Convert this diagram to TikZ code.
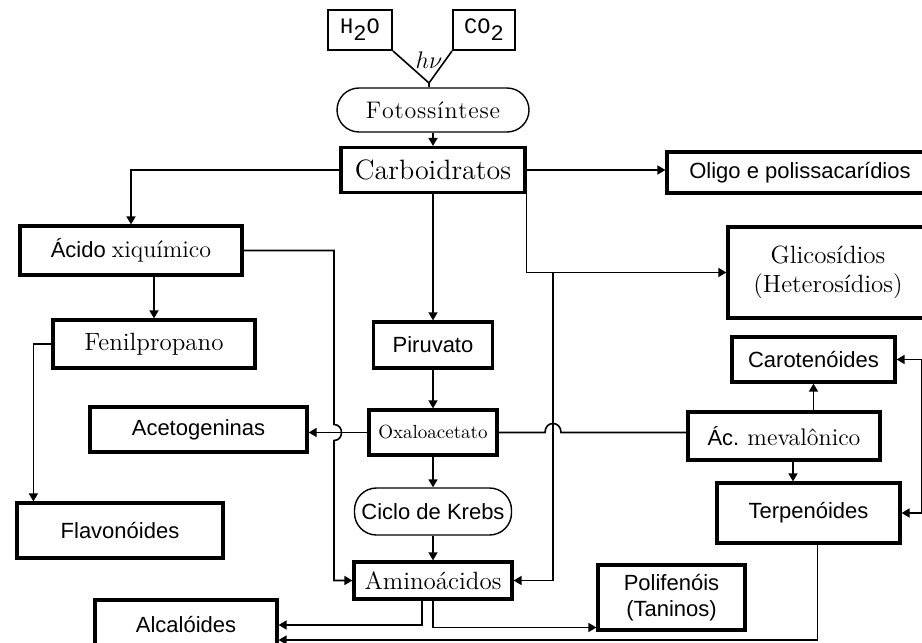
\documentclass[tikz,border=0pt]{standalone}
\usepackage{fontspec}
\setsansfont{Liberation Sans}
\setmonofont{Liberation Mono}
\usetikzlibrary{
  arrows.meta,
  positioning,
  calc
}
\tikzset{
  box/.style={
    rectangle, draw=black, line width=1.6pt, fill=white,
    inner sep=0pt, align=center,
    font=\sffamily\fontsize{11}{13}\selectfont
  },
  boxR/.style={
    box, font=\rmfamily\fontsize{12.5}{14.5}\selectfont
  },
  pill/.style={
    rectangle, rounded corners=11pt, draw=black, line width=0.7pt,
    inner sep=0pt, align=center
  },
  chem/.style={
    rectangle, draw=black, line width=1pt, inner sep=0pt,
    font=\ttfamily\fontsize{11}{13}\selectfont
  },
  arrow/.style={-{Triangle[length=4pt,width=4.5pt]}, line width=0.8pt},
  arrow2/.style={{Triangle[length=4pt,width=4.5pt]}-{Triangle[length=4pt,width=4.5pt]}, line width=0.8pt},
  link/.style={line width=0.8pt}
}

\begin{document}
\begin{tikzpicture}[x=0.5pt, y=-0.5pt]
  \useasboundingbox (0,0) rectangle (922,643);
  % Inputs
  \node[chem, minimum width=32pt, minimum height=20pt] (h2o) at (360,30)
    {H\raisebox{-.6ex}{2}O};
  \node[chem, minimum width=31pt, minimum height=20pt] (co2) at (484,30)
    {CO\raisebox{-.6ex}{2}};
  \coordinate (v) at (429,83);
  \node[font=\rmfamily\fontsize{12}{14}\selectfont] (hnu) at (429,60) {$h\nu$};
  \node[pill, minimum width=96pt, minimum height=22pt,
        font=\rmfamily\fontsize{12}{14}\selectfont] (foto) at (433,110)
    {F\kern.4pt o\kern.4pt t\kern.4pt o\kern.4pt s\kern.4pt s\kern.4pt í\kern.4pt n\kern.4pt t\kern.4pt e\kern.4pt s\kern.4pt e};
  % Main column
  \node[boxR, minimum width=92pt, minimum height=22.5pt,
        font=\rmfamily\fontsize{14}{16}\selectfont] (carbo) at (433,170) {Carboidratos};
  \node[box, minimum width=59.5pt, minimum height=23pt] (piru) at (433,345) {Piruvato};
  \node[boxR, minimum width=64pt, minimum height=22.5pt,
        font=\rmfamily\fontsize{9.5}{11}\selectfont] (oxal) at (433,432.5) {Oxaloacetato};
  \node[pill, minimum width=78.5pt, minimum height=23.5pt,
        font=\sffamily\fontsize{11}{13}\selectfont] (krebs) at (433,511.5) {Ciclo de Krebs};
  \node[boxR, minimum width=79pt, minimum height=18.5pt] (amino) at (433,580.5) {Aminoácidos};
  % Right side
  \node[box, minimum width=133pt, minimum height=20.5pt] (oligo) at (800,172.5)
    {Oligo e polissacarídios};
  \node[boxR, minimum width=100pt, minimum height=45.5pt] (glic) at (828,272.5)
    {Glicosídios\\(Heterosídios)};
  \node[box, minimum width=81.5pt, minimum height=22.5pt] (caro) at (813.5,359.5) {Carotenóides};
  \node[box, minimum width=96pt, minimum height=24pt] (meva) at (784,436)
    {Ác. {\rmfamily\fontsize{12}{14}\selectfont mevalônico}};
  \node[box, minimum width=91.5pt, minimum height=30pt] (terp) at (808.5,513) {Terpenóides};
  \node[box, minimum width=73.5pt, minimum height=32.5pt] (poli) at (671.5,597.5)
    {Polifenóis\\(Taninos)};
  % Left side
  \node[box, minimum width=111pt, minimum height=24.5pt] (acid) at (131,250.5)
    {Ácido {\rmfamily\fontsize{12}{14}\selectfont xiquímico}};
  \node[boxR, minimum width=101pt, minimum height=24pt] (feni) at (154,344) {Fenilpropano};
  \node[box, minimum width=108.5pt, minimum height=22.5pt] (acet) at (198.5,429.5) {Acetogeninas};
  \node[box, minimum width=103pt, minimum height=27.5pt] (flav) at (120,530.5) {Flavonóides};
  \node[box, minimum width=91pt, minimum height=25pt] (alca) at (186,625) {Alcalóides};
  % Lanes
  \coordinate (lx) at (334,0);
  \coordinate (jg) at (553,0);

  % Photosynthesis
  \draw[link] (h2o.south east) -- (v) -- (co2.south west);
  \draw[link] (v) -- (v |- foto.north);
  \draw[arrow] (foto) -- (carbo);
  % Main column arrows
  \draw[arrow] (carbo) -- (piru);
  \draw[arrow] (piru) -- (oxal);
  \draw[arrow] (oxal) -- (krebs);
  \draw[arrow] (krebs) -- (amino);
  % From Carboidratos
  \draw[arrow] (carbo.west) -| (acid.north);
  \draw[arrow] (carbo.east) -- (carbo.east -| oligo.west);
  \draw[arrow] (carbo.south east) |- (glic.west);
  \draw[arrow] (jg |- glic.west) |- (amino.east);
  % Oxaloacetato branches
  \draw[arrow] (oxal.west) -- (oxal.west -| acet.east);
  \draw[link] (oxal.east) -- ([xshift=-4pt]jg |- oxal.east)
    .. controls +(0,-12) and +(0,-12) .. ([xshift=4pt]jg |- oxal.east)
    -- (oxal.east -| meva.west);
  % Acido xiquimico
  \draw[arrow] (acid.east) -- (acid.east -| lx)
    -- ([yshift=4pt]lx |- oxal.west)
    .. controls +(10,0) and +(10,0) .. ([yshift=-4pt]lx |- oxal.west)
    |- (amino.west);
  \draw[arrow] (acid.south -| feni.north) -- (feni.north);
  \draw[arrow] (feni.west) -| ([xshift=9pt]flav.north west);
  % Mevalonico
  \draw[arrow] (meva.north -| caro.south) -- (caro.south);
  \draw[arrow] ([xshift=4.5pt]meva.south) -- ([xshift=4.5pt]meva.south |- terp.north);
  \draw[arrow2] (caro.east) -- ++(25,0) |- (terp.east);
  % Bottom
  \draw[arrow] ([xshift=-5.5pt]amino.south) |- (alca.east);
  \draw[arrow] (amino.south) |- ([yshift=-15pt]poli.west);
  \draw[arrow] ([xshift=4.5pt]terp.south) |- ([yshift=-7.5pt]alca.east);
\end{tikzpicture}
\end{document}
